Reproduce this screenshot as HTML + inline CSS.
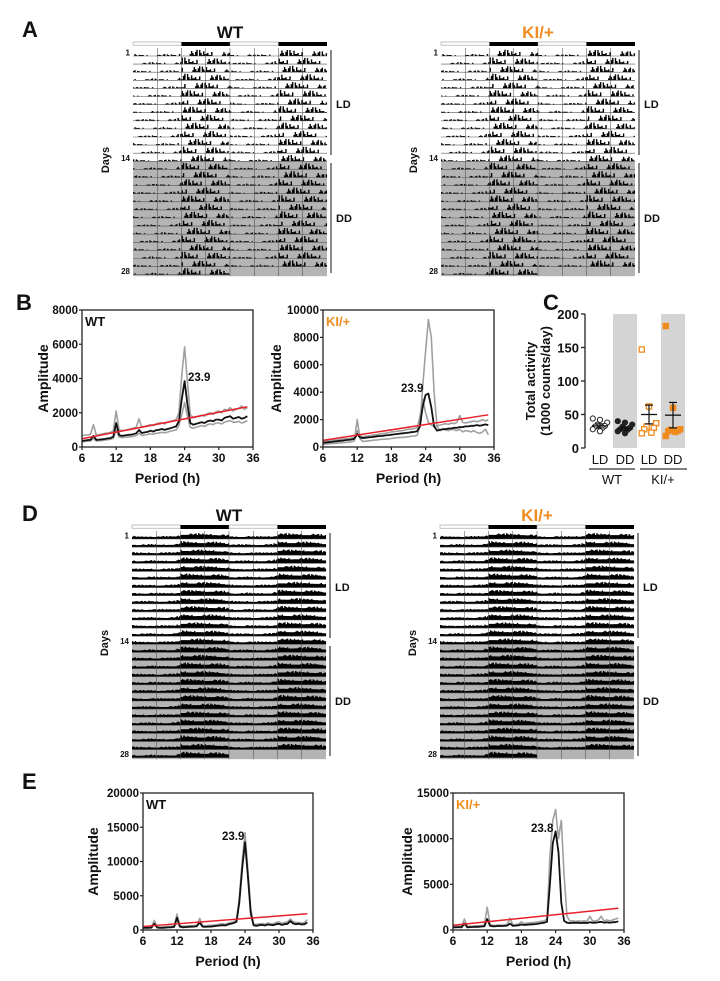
<!DOCTYPE html>
<html><head><meta charset="utf-8"><style>
html,body{margin:0;padding:0;background:#fff;}
svg{display:block;font-family:"Liberation Sans",Arial,sans-serif;}
</style></head><body>
<svg id="fig" width="720" height="981" viewBox="0 0 720 981" xmlns="http://www.w3.org/2000/svg"></svg>
<script>
// ---------- DATA ----------
const periods = [6,6.5,7,7.5,8,8.5,9,9.5,10,10.5,11,11.5,12,12.5,13,13.5,14,14.5,15,15.5,16,16.5,17,17.5,18,18.5,19,19.5,20,20.5,21,21.5,22,22.5,23,23.5,24,24.5,25,25.5,26,26.5,27,27.5,28,28.5,29,29.5,30,30.5,31,31.5,32,32.5,33,33.5,34,34.5,35];
const bWtMean = [350,380,400,420,650,420,430,450,470,500,520,600,1400,700,650,680,700,720,750,800,1000,820,850,880,950,900,980,1000,1050,1000,1050,1100,1150,1200,1500,2800,3850,2500,1400,1300,1350,1400,1450,1400,1500,1550,1500,1600,1600,1550,1700,1750,1800,1650,1700,1750,1650,1700,1800];
const bWtHigh = [650,700,700,750,1300,700,720,760,800,820,850,950,2100,1000,950,980,1000,1050,1100,1150,1650,1150,1200,1250,1300,1250,1350,1400,1400,1350,1450,1500,1550,1600,2000,4200,5850,3800,1900,1700,1750,1800,1850,1800,1950,2000,1900,2050,2100,2000,2200,2150,2300,2100,2200,2250,2400,2200,2300];
const bWtLow = [300,320,340,350,500,350,370,380,400,430,450,500,1000,580,550,570,590,600,620,680,800,680,700,730,780,740,800,820,860,830,870,920,960,1000,1250,1900,2600,1800,1150,1100,1150,1200,1250,1200,1300,1350,1300,1400,1400,1350,1450,1500,1550,1450,1450,1500,1400,1450,1550];
const bKiMean = [300,330,350,370,400,420,450,470,500,520,550,600,950,700,650,680,700,720,750,780,800,820,850,870,900,920,950,980,1000,1020,1050,1080,1100,1150,1500,3000,3800,3900,2900,1500,1200,1250,1300,1300,1350,1350,1400,1400,1450,1450,1500,1500,1550,1550,1600,1550,1600,1650,1600];
const bKiGray1 = [200,220,230,250,270,280,300,320,330,350,380,450,2000,600,400,420,450,470,500,520,550,560,580,600,620,650,680,700,700,720,750,780,800,850,1500,4500,7000,9300,8000,4000,1500,1200,1300,1250,1200,1300,1250,1200,1300,1100,1200,1150,1100,1200,1050,1000,1100,1300,900];
const bKiGray2 = [400,420,450,470,500,520,550,580,600,620,650,700,1200,800,750,780,800,850,880,900,950,980,1000,1050,1100,1120,1150,1180,1200,1250,1300,1300,1350,1400,2200,3500,2500,1800,1600,1500,1550,1600,1650,1700,1650,1750,1700,1800,2300,1800,1750,1800,1850,1900,1850,1900,2000,1900,2000];
const eWtMean = [300,320,300,350,900,350,300,320,350,380,400,450,1800,500,400,420,450,480,500,550,1100,500,450,500,500,550,600,650,700,650,800,900,1000,1200,4000,9000,12800,8000,2500,700,600,700,750,650,800,750,700,850,900,750,850,900,1300,950,850,900,800,850,1100];
const eWtGray = [450,470,450,500,1400,500,450,470,500,520,550,600,2300,700,550,570,600,630,650,700,1700,650,600,650,700,700,800,850,900,850,1000,1100,1200,1500,4800,10000,14200,9000,3200,900,800,900,950,850,1000,950,900,1100,1200,950,1100,1200,1600,1200,1100,1100,1000,1100,1500];
const eKiMean = [300,300,320,300,700,300,320,330,350,350,380,400,1200,450,400,420,450,430,450,480,700,450,480,500,600,550,580,600,620,650,700,750,800,900,5000,9500,10800,8500,3000,1000,800,750,800,780,800,750,800,750,850,800,800,850,900,800,850,800,850,850,950];
const eKiGray = [400,400,420,420,1200,400,420,430,450,460,480,550,2500,600,500,520,550,540,560,600,1300,560,600,650,900,700,750,800,800,850,900,950,1000,1200,8000,12000,13200,10000,12000,6000,1500,1000,1000,950,1000,950,1000,950,1500,1000,1000,1100,1500,1000,1100,1000,1100,1200,1300];
const sigPeriods = [6,35];
const sigB = [480,2350];
const sigE = [520,2380];

const cGroups = ["LD","DD","LD","DD"];
const cWtLD = [44,42,38,35,33,32,30,28,25];
const cWtDD = [40,38,35,32,30,28,27,25,22];
const cKiLD = [147,62,37,32,30,28,23,22];
const cKiDD = [182,60,28,27,26,25,24,18];
const cMeans = [33,29,50,49];
const cSems = [3,2.5,14,19];
const cTicks = [0,50,100,150,200];

const actProfileA = [0.3,0.2,0.25,0.2,0.3,0.25,0.2,0.3,0.25,0.3,0.3,0.45,1,0.95,0.9,0.95,0.9,0.85,0.95,0.9,0.85,0.8,0.7,0.5];
const actProfileD = [0.45,0.4,0.42,0.4,0.45,0.42,0.4,0.43,0.42,0.45,0.45,0.55,0.85,0.85,0.82,0.8,0.82,0.8,0.78,0.8,0.78,0.75,0.7,0.6];
const spikePattern = [0,3,0,1,5,0,2,6,1,0,4,2,0,5,3,1,0,6,2,0,3,1,4,0];

// ---------- HELPERS ----------
const NS="http://www.w3.org/2000/svg";
const svg=document.getElementById('fig');
function mk(tag,attrs,parent){const e=document.createElementNS(NS,tag);for(const k in attrs)e.setAttribute(k,attrs[k]);(parent||svg).appendChild(e);return e;}
function txt(s,x,y,size,opts,parent){opts=opts||{};const e=mk('text',{x:x,y:y,'font-size':size,'font-weight':opts.w||'bold','text-anchor':opts.a||'start',fill:opts.c||'#111'},parent);if(opts.rot)e.setAttribute('transform','rotate(-90 '+x+' '+y+')');e.textContent=s;return e;}
const ORANGE="#f08c1e";

[["A",22,37],["B",16,310],["C",543,310],["D",22,521],["E",22,789]].forEach(function(p){
  const t=txt(p[0],p[1],p[2],22);
  
  
});

// ---------- ACTOGRAMS ----------
function actogram(x0,yOff,title,titleColor,profile,dense,name){
  const g=mk('g',{});
  
  
  const W=194, x1=x0+W, pitch=8.1, base0=56+yOff;
  const t=txt(title,x0+W/2,38+yOff,17,{a:'middle',c:titleColor},g);
  
  
  const q=W/4;
  for(let i=0;i<4;i++){
    const r=mk('rect',{x:x0+i*q,y:42+yOff,width:q,height:i%2?4:3.2,fill:i%2?'#000':'#fff',stroke:i%2?'none':'#999','stroke-width':0.6},g);
    
    
  }
  const gy=base0+13*pitch;
  const gr=mk('rect',{x:x0,y:gy,width:W,height:base0+27*pitch+1.5-gy,fill:'#b4b4b4'},g);
  
  
  const binsPerDay=72, bw=(W/2)/binsPerDay;
  for(let r=0;r<28;r++){
    const by=base0+r*pitch;
    let d='';
    for(let half=0;half<2;half++){
      if(r===27&&half===1)continue;
      for(let b=0;b<binsPerDay;b++){
        const hr=Math.floor(b/3);
        const p=spikePattern[(b*7+r*5+half*11)%spikePattern.length];
        let h;
        if(dense){h=7*profile[hr]*(0.7+0.3*p/6);}else{h=profile[hr]*p*1.1;if(profile[hr]<0.5&&p<4)h=p>1?1:0;}
        if(h<=0)continue;
        const x=x0+half*W/2+b*bw;
        d+='M'+x.toFixed(2)+' '+by.toFixed(2)+'h'+(bw+0.05).toFixed(2)+'v'+(-h).toFixed(2)+'h'+(-(bw+0.05)).toFixed(2)+'z';
      }
    }
    const pth=mk('path',{d:d,fill:'#000'},g);
    
    
    mk('line',{x1:x0,x2:(r===27?x0+W/2:x1),y1:by,y2:by,stroke:'#555','stroke-width':0.6},g);
  }
  for(let k=1;k<8;k++){
    mk('line',{x1:x0+k*W/8,x2:x0+k*W/8,y1:48+yOff,y2:base0+27*pitch+1.5,stroke:'#444','stroke-width':0.5},g);
  }
  [["1",0],["14",13],["28",27]].forEach(function(l){const e=txt(l[0],x0-3,base0+l[1]*pitch-0.5,8,{a:'end'},g);});
  const dl=txt('Days',x0-24,160+yOff,11,{a:'middle',rot:true},g);
  
  
  mk('line',{x1:x1+4,x2:x1+4,y1:50+yOff,y2:155+yOff,stroke:'#111','stroke-width':1},g);
  mk('line',{x1:x1+4,x2:x1+4,y1:163+yOff,y2:273+yOff,stroke:'#111','stroke-width':1},g);
  const a=txt('LD',x1+9,108+yOff,11,{},g);
  const b=txt('DD',x1+9,222+yOff,11,{},g);
}
actogram(133,0,'WT','#111',actProfileA,false,'actogram-wt-a');
actogram(441,0,'KI/+',ORANGE,actProfileA,false,'actogram-ki-a');
actogram(132,483,'WT','#111',actProfileD,true,'actogram-wt-d');
actogram(440,483,'KI/+',ORANGE,actProfileD,true,'actogram-ki-d');

// ---------- PERIODOGRAMS ----------
function periodogram(cfg){
  const g=mk('g',{});
  
  
  const L=cfg.l,R=cfg.r,T=cfg.t,B=cfg.b;
  const xs=function(v){return L+(v-6)/30*(R-L);};
  const ys=function(v){return B-v/cfg.ymax*(B-T);};
  function line(arr,color,w,nm){
    let d='';arr.forEach(function(v,i){d+=(i?'L':'M')+xs(periods[i]).toFixed(1)+' '+ys(Math.min(v,cfg.ymax)).toFixed(1);});
    const p=mk('path',{d:d,fill:'none',stroke:color,'stroke-width':w,'stroke-linejoin':'round'},g);
    
    
  }
  cfg.grays.forEach(function(a,i){line(a,'#a0a0a0',1.6,'gray-trace-'+(i+1));});
  line(cfg.mean,'#111',1.8,'mean-trace');
  const sl=mk('line',{x1:xs(sigPeriods[0]),y1:ys(cfg.sig[0]),x2:xs(sigPeriods[1]),y2:ys(cfg.sig[1]),stroke:'#e8202a','stroke-width':1.5},g);
  
  
  const fr=mk('rect',{x:L,y:T,width:R-L,height:B-T,fill:'none',stroke:'#222','stroke-width':1.3},g);
  
  
  [6,12,18,24,30,36].forEach(function(v){
    mk('line',{x1:xs(v),x2:xs(v),y1:B,y2:B+3,stroke:'#222','stroke-width':1.2},g);
    const t=txt(String(v),xs(v),B+15,12,{a:'middle'},g);
    
  });
  cfg.yticks.forEach(function(v){
    mk('line',{x1:L-3,x2:L,y1:ys(v),y2:ys(v),stroke:'#222','stroke-width':1.2},g);
    const t=txt(String(v),L-4,ys(v)+4,11.5,{a:'end'},g);
    
  });
  const xt=txt('Period (h)',(L+R)/2,B+36,14,{a:'middle'},g);
  
  const yt=txt('Amplitude',cfg.ylx,(T+B)/2,14,{a:'middle',rot:true},g);
  
  const lb=txt(cfg.label,L+3,T+16,13,{c:cfg.labelColor},g);
  
  const an=txt(cfg.ann[0],cfg.ann[1],cfg.ann[2],11.5,{},g);
  
}
periodogram({name:'periodogram-wt-b',l:82,r:253,t:310,b:447,ymax:8000,yticks:[0,2000,4000,6000,8000],mean:bWtMean,grays:[bWtHigh,bWtLow],sig:sigB,label:'WT',labelColor:'#111',ann:['23.9',188,381],ylx:48});
periodogram({name:'periodogram-ki-b',l:323,r:494,t:310,b:447,ymax:10000,yticks:[0,2000,4000,6000,8000,10000],mean:bKiMean,grays:[bKiGray1,bKiGray2],sig:sigB,label:'KI/+',labelColor:ORANGE,ann:['23.9',401,392],ylx:281});
periodogram({name:'periodogram-wt-e',l:143,r:313,t:793,b:930,ymax:20000,yticks:[0,5000,10000,15000,20000],mean:eWtMean,grays:[eWtGray],sig:sigE,label:'WT',labelColor:'#111',ann:['23.9',222,840],ylx:98});
periodogram({name:'periodogram-ki-e',l:453,r:624,t:793,b:930,ymax:15000,yticks:[0,5000,10000,15000],mean:eKiMean,grays:[eKiGray],sig:sigE,label:'KI/+',labelColor:ORANGE,ann:['23.8',531,832],ylx:412});

// ---------- PANEL C ----------
(function(){
  const g=mk('g',{});
  
  
  const AX=585,T=314,B=448,ymax=200;
  const ys=function(v){return B-v/ymax*(B-T);};
  const cx=[600,625,649,673];
  [[613,637],[661,685]].forEach(function(b){const r=mk('rect',{x:b[0],y:T,width:b[1]-b[0],height:B-T,fill:'#d4d4d4'},g);});
  mk('line',{x1:AX,x2:AX,y1:T,y2:B,stroke:'#222','stroke-width':1.3},g);
  cTicks.forEach(function(v){
    mk('line',{x1:AX-4,x2:AX,y1:ys(v),y2:ys(v),stroke:'#222','stroke-width':1.3},g);
    const t=txt(String(v),AX-6,ys(v)+5,13,{a:'end'},g);
    
  });
  const sets=[[cWtLD,'#222','circle',false],[cWtDD,'#222','circle',true],[cKiLD,ORANGE,'square',false],[cKiDD,ORANGE,'square',true]];
  sets.forEach(function(s,gi){
    s[0].forEach(function(v,i){
      const off=((i*3)%7-3)*2.4;
      const x=cx[gi]+off,y=ys(v);
      let e;
      if(s[2]==='circle')e=mk('circle',{cx:x,cy:y,r:2.6,fill:s[3]?s[1]:'#fff',stroke:s[1],'stroke-width':1},g);
      else e=mk('rect',{x:x-2.6,y:y-2.6,width:5.2,height:5.2,fill:s[3]?s[1]:'#fff',stroke:s[1],'stroke-width':1.3},g);
      
      
    });
    const m=cMeans[gi],se=cSems[gi];
    const ml=mk('line',{x1:cx[gi]-8,x2:cx[gi]+8,y1:ys(m),y2:ys(m),stroke:'#111','stroke-width':1.3},g);
    
    mk('line',{x1:cx[gi],x2:cx[gi],y1:ys(m-se),y2:ys(m+se),stroke:'#111','stroke-width':1.2},g);
    mk('line',{x1:cx[gi]-4,x2:cx[gi]+4,y1:ys(m+se),y2:ys(m+se),stroke:'#111','stroke-width':1.2},g);
    mk('line',{x1:cx[gi]-4,x2:cx[gi]+4,y1:ys(m-se),y2:ys(m-se),stroke:'#111','stroke-width':1.2},g);
    const t=txt(cGroups[gi],cx[gi],464,13,{a:'middle',w:'normal'},g);
    
  });
  mk('line',{x1:589,x2:635,y1:469,y2:469,stroke:'#555','stroke-width':1.5},g);
  mk('line',{x1:640,x2:687,y1:469,y2:469,stroke:'#555','stroke-width':1.5},g);
  const w=txt('WT',612,484,13,{a:'middle',w:'normal'},g);
  const k=txt('KI/+',663,484,13,{a:'middle',w:'normal'},g);
  const y1=txt('Total activity',535,381,13,{a:'middle',rot:true},g);
  const y2=txt('(1000 counts/day)',550,381,13,{a:'middle',rot:true},g);
})();
</script>
</body></html>
